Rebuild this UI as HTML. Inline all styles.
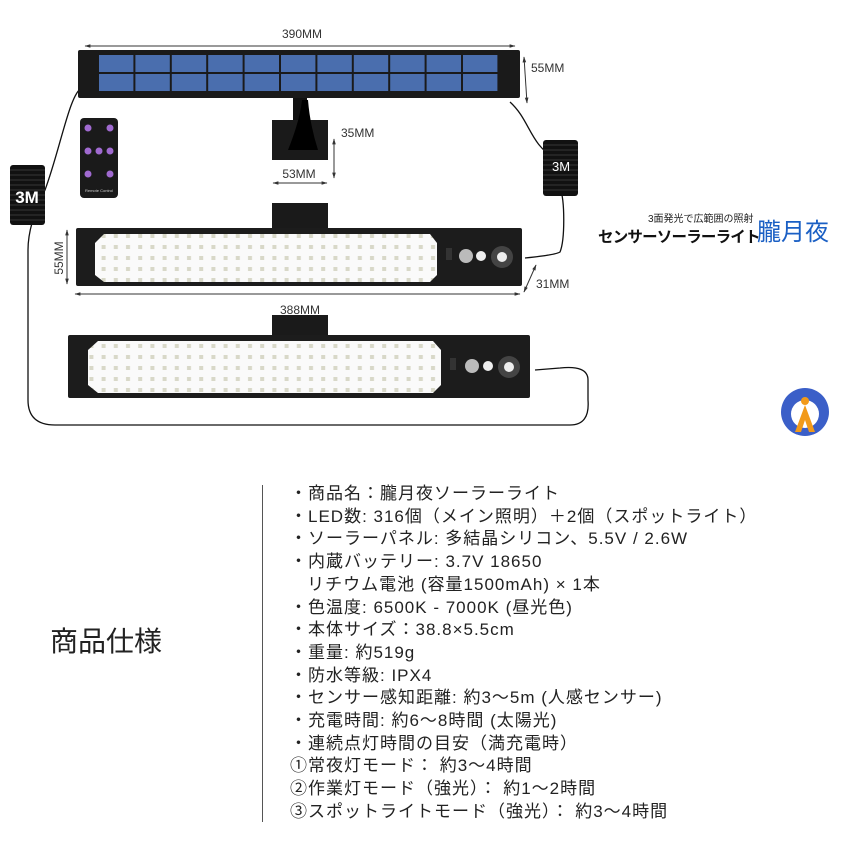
<!DOCTYPE html>
<html><head><meta charset="utf-8"><style>
body{margin:0;width:860px;height:860px;background:#fff;position:relative;overflow:hidden;font-family:"Liberation Sans","Noto Sans CJK JP",sans-serif}
.a{position:absolute}
.spec{position:absolute;left:290px;top:483px;font-size:17px;line-height:22.7px;color:#222;white-space:nowrap;letter-spacing:1px}
</style></head><body>
<svg class="a" style="left:0;top:0" width="860" height="460" viewBox="0 0 860 460">
<defs>
<pattern id="cell" x="98" y="54" width="36.4" height="19" patternUnits="userSpaceOnUse"><rect x="1" y="1" width="34.4" height="17" fill="#4a6eae"/></pattern>
<pattern id="led" width="12.2" height="11" patternUnits="userSpaceOnUse"><rect width="12.2" height="11" fill="#fafafa"/><rect x="4" y="3" width="4" height="4" fill="#d8d8c8"/></pattern>
<marker id="ar" viewBox="0 0 10 10" refX="9" refY="5" markerWidth="6" markerHeight="6" orient="auto-start-reverse"><path d="M0,2L10,5L0,8z" fill="#333"/></marker>
</defs>
<g font-size="12" fill="#333" font-family="Liberation Sans">
<text x="302" y="38" text-anchor="middle">390MM</text>
<text x="531" y="72">55MM</text>
<text x="341" y="137">35MM</text>
<text x="299" y="178" text-anchor="middle">53MM</text>
<text x="300" y="314" text-anchor="middle">388MM</text>
<text x="536" y="288">31MM</text>
<text transform="translate(63,258) rotate(-90)" text-anchor="middle">55MM</text>
</g>
<g stroke="#333" stroke-width="1" fill="none" marker-start="url(#ar)" marker-end="url(#ar)">
<line x1="85" y1="46" x2="515" y2="46"/><line x1="524" y1="57" x2="527" y2="103"/>
<line x1="334" y1="139" x2="334" y2="178"/><line x1="273" y1="183" x2="327" y2="183"/>
<line x1="67" y1="230" x2="67" y2="284"/><line x1="75" y1="294" x2="520" y2="294"/>
<line x1="524" y1="292" x2="536" y2="265"/>
</g>
<g stroke="#111" stroke-width="1.3" fill="none">
<path d="M82,88 C70,92 60,150 45,190 C35,210 28,230 28,250 L28,400 Q28,425 55,425 L570,425 Q590,425 588,400 L588,380 Q588,365 560,368 L535,370"/>
<path d="M510,102 C530,120 530,145 555,158 M560,188 C565,200 565,240 560,252 Q555,255 525,258"/>
</g>
<rect x="10" y="165" width="35" height="60" fill="#111" rx="3"/>
<g stroke="#444" stroke-width="0.8"><path d="M10,170H45M10,175H45M10,180H45M10,185H45M10,190H45M10,195H45M10,200H45M10,205H45M10,210H45M10,215H45M10,220H45"/></g>
<text x="27" y="203" font-size="17" font-weight="bold" fill="#fff" text-anchor="middle">3M</text>
<rect x="543" y="140" width="35" height="56" fill="#111" rx="3"/>
<g stroke="#444" stroke-width="0.8"><path d="M543,145H578M543,150H578M543,155H578M543,160H578M543,165H578M543,170H578M543,175H578M543,180H578M543,185H578M543,190H578"/></g>
<text x="561" y="171" font-size="13" fill="#fff" text-anchor="middle">3M</text>
<rect x="78" y="50" width="442" height="48" fill="#1a1a1a" rx="2"/>
<rect x="98" y="54" width="400" height="38" fill="url(#cell)"/>
<rect x="293" y="98" width="14" height="45" fill="#111"/>
<rect x="272" y="120" width="56" height="40" fill="#1a1a1a"/>
<path d="M288,150 Q300,120 302,100 L308,100 Q310,125 318,150z" fill="#000"/>
<rect x="80" y="118" width="38" height="80" rx="4" fill="#1a1a1a"/>
<g fill="#a06ad0"><circle cx="88" cy="128" r="3.5"/><circle cx="110" cy="128" r="3.5"/><circle cx="88" cy="151" r="3.5"/><circle cx="99" cy="151" r="3.5"/><circle cx="110" cy="151" r="3.5"/><circle cx="88" cy="174" r="3.5"/><circle cx="110" cy="174" r="3.5"/></g>
<text x="99" y="192" font-size="4" fill="#ccc" text-anchor="middle">Remote Control</text>
<rect x="272" y="203" width="56" height="26" fill="#1a1a1a"/>
<rect x="76" y="228" width="446" height="58" fill="#1c1c1c" rx="2"/>
<path d="M104,234 L430,234 L437,243 L437,275 L430,282 L104,282 L95,275 L95,243z" fill="url(#led)"/>
<rect x="446" y="248" width="6" height="12" fill="#333"/>
<circle cx="466" cy="256" r="7" fill="#bbb"/><circle cx="481" cy="256" r="5" fill="#eee"/>
<circle cx="502" cy="257" r="11" fill="#444"/><circle cx="502" cy="257" r="5" fill="#eee"/>
<rect x="272" y="315" width="56" height="22" fill="#1a1a1a"/>
<rect x="68" y="335" width="462" height="63" fill="#1c1c1c" rx="2"/>
<path d="M98,341 L433,341 L441,350 L441,385 L433,393 L98,393 L88,385 L88,350z" fill="url(#led)"/>
<rect x="450" y="358" width="6" height="12" fill="#333"/>
<circle cx="472" cy="366" r="7" fill="#bbb"/><circle cx="488" cy="366" r="5" fill="#eee"/>
<circle cx="509" cy="367" r="11" fill="#444"/><circle cx="509" cy="367" r="5" fill="#eee"/>
<circle cx="805" cy="412" r="24" fill="#3b5fc8"/><circle cx="805" cy="414" r="14" fill="#fff"/>
<path d="M795,432 L805,405 L815,432 L809,432 L805,420 L801,432z" fill="#f29a1a"/><circle cx="805" cy="401" r="4" fill="#f29a1a"/>
</svg>
<div class="a" style="left:648px;top:210px;font-size:10px;color:#222">3面発光で広範囲の照射</div>
<div class="a" style="left:598px;top:225px;font-size:15.5px;font-weight:bold;color:#111;letter-spacing:-0.8px">センサーソーラーライト</div>
<div class="a" style="left:757px;top:212px;font-size:24px;color:#1a5fc4">朧月夜</div>
<div class="a" style="left:262px;top:485px;width:1px;height:337px;background:#555"></div>
<div class="a" style="left:50px;top:620px;font-size:28px;color:#222">商品仕様</div>
<div class="spec">
・商品名：朧月夜ソーラーライト<br>
・LED数: 316個（メイン照明）＋2個（スポットライト）<br>
・ソーラーパネル: 多結晶シリコン、5.5V / 2.6W<br>
・内蔵バッテリー: 3.7V 18650<br>
&nbsp;&nbsp;&nbsp;リチウム電池 (容量1500mAh) × 1本<br>
・色温度: 6500K - 7000K (昼光色)<br>
・本体サイズ：38.8×5.5cm<br>
・重量: 約519g<br>
・防水等級: IPX4<br>
・センサー感知距離: 約3～5m (人感センサー)<br>
・充電時間: 約6～8時間 (太陽光)<br>
・連続点灯時間の目安（満充電時）<br>
①常夜灯モード： 約3～4時間<br>
②作業灯モード（強光）： 約1～2時間<br>
③スポットライトモード（強光）： 約3～4時間
</div>
</body></html>
